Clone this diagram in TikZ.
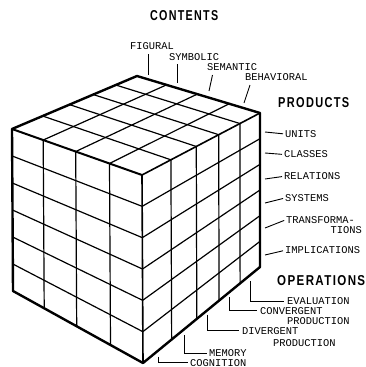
\documentclass[tikz,border=0pt]{standalone}
\usepackage{fontspec}
\usepackage{graphicx}
\newfontfamily\labfont{Liberation Mono}
\newfontfamily\titlefont[LetterSpace=12]{Liberation Sans}
\usetikzlibrary{calc}
\newcommand{\ttl}[2]{\resizebox{#1pt}{10pt}{\titlefont\bfseries #2}}
\begin{document}
\begin{tikzpicture}[x=1pt,y=-1pt,
  outline/.style={line width=2.4pt, line join=round, line cap=round},
  gridline/.style={line width=1.2pt},
  lead/.style={line width=0.9pt},
  lab/.style={inner sep=0pt, anchor=west, font=\labfont\fontsize{10.4pt}{12pt}\selectfont},
  labr/.style={inner sep=0pt, anchor=east, font=\labfont\fontsize{10.4pt}{12pt}\selectfont},
  ttlnode/.style={inner sep=0pt, anchor=north west}]
\useasboundingbox (0,0) rectangle (365,367);
% cube vertices
\coordinate (T) at (137,76);
\coordinate (L) at (12,129);
\coordinate (F) at (142,175);
\coordinate (R) at (260,113);
\coordinate (LB) at (13,291);
\coordinate (FB) at (143,363);
\coordinate (RB) at (260,267);
% right face
\foreach \c in {0.245,0.46,0.65,0.83}
  \draw[gridline] ($(F)!\c!(R)$) -- ($(FB)!\c!(RB)$);
\foreach \r in {1,...,5}
  \draw[gridline] ($(F)!\r/6!(FB)$) -- ($(R)!\r/6!(RB)$);
% left face
\foreach \a in {0.24,0.49,0.75}
  \draw[gridline] ($(L)!\a!(F)$) -- ($(LB)!\a!(FB)$);
\foreach \r in {1,...,5}
  \draw[gridline] ($(L)!\r/6!(LB)$) -- ($(F)!\r/6!(FB)$);
% top face
\foreach \c in {0.245,0.46,0.65,0.83}
  \draw[gridline] ($(L)!\c!(T)$) -- ($(F)!\c!(R)$);
\foreach \a in {0.24,0.49,0.75}
  \draw[gridline] ($(L)!\a!(F)$) -- ($(T)!\a!(R)$);
% inner edges
\draw[line width=1.6pt] (F) -- (FB);
\draw[line width=1.6pt] (F) -- (R);
\draw[line width=2pt] (L) -- (F);
% outline
\draw[outline] (L) -- (T) -- (R) -- (RB) -- (FB) -- (LB) -- cycle;

% titles
\node[ttlnode] (contents) at (150,10) {\ttl{68}{CONTENTS}};
\node[ttlnode] (products) at (278,97) {\ttl{71}{PRODUCTS}};
\node[ttlnode] (operations) at (277,275) {\ttl{88}{OPERATIONS}};

% contents labels
\node[lab] (figural) at (130,45.7) {FIGURAL};
\node[lab] (symbolic) at (169,56.7) {SYMBOLIC};
\node[lab] (semantic) at (207,66.7) {SEMANTIC};
\node[lab] (behavioral) at (245,77) {BEHAVIORAL};
\coordinate (fig1) at (148.5,54);  \coordinate (fig2) at (148.5,75);
\coordinate (sym1) at (177,64);  \coordinate (sym2) at (177,83);
\coordinate (sem1) at (212.5,75);  \coordinate (sem2) at (209,91);
\coordinate (beh1) at (250,85);  \coordinate (beh2) at (244,103);
\draw[lead] (fig1) -- (fig2);
\draw[lead] (sym1) -- (sym2);
\draw[lead] (sem1) -- (sem2);
\draw[lead] (beh1) -- (beh2);

% products labels
\node[lab] (units) at (285,134) {UNITS};
\node[lab] (classes) at (284,154.5) {CLASSES};
\node[lab] (relations) at (284,176.3) {RELATIONS};
\node[lab] (systems) at (285,198) {SYSTEMS};
\node[lab] (transforma) at (286,219.7) {TRANSFORMA-};
\node[labr] (tions) at (362,229.7) {TIONS};
\node[lab] (implications) at (285,250.3) {IMPLICATIONS};
\coordinate (u0) at (265,132);
\coordinate (c0) at (265,153);
\coordinate (r0) at (265,179);
\coordinate (s0) at (265,203);
\coordinate (t0) at (265,228);
\coordinate (i0) at (265,255);
\draw[lead, shorten >=2pt] (u0) -- (units.west);
\draw[lead, shorten >=2pt] (c0) -- (classes.west);
\draw[lead, shorten >=2pt] (r0) -- (relations.west);
\draw[lead, shorten >=2pt] (s0) -- (systems.west);
\draw[lead, shorten >=2pt] (t0) -- (transforma.west);
\draw[lead, shorten >=2pt] (i0) -- (implications.west);

% operations labels
\node[lab] (evaluation) at (287,301.3) {EVALUATION};
\node[lab] (convergent) at (260,310.8) {CONVERGENT};
\node[lab] (prod1) at (287,321.3) {PRODUCTION};
\node[lab] (divergent) at (242,330.8) {DIVERGENT};
\node[lab] (prod2) at (273,343.3) {PRODUCTION};
\node[lab] (memory) at (209,353) {MEMORY};
\node[lab] (cognition) at (190,362.6) {COGNITION};
\coordinate (ev0) at ($(FB)!0.915!(RB)+(0,6)$);
\coordinate (cv0) at ($(FB)!0.74!(RB)+(0,5)$);
\coordinate (dv0) at ($(FB)!0.555!(RB)+(0,5)$);
\coordinate (me0) at ($(FB)!0.35!(RB)+(0,6)$);
\coordinate (co0) at ($(FB)!0.13!(RB)+(0,6)$);
\draw[lead, shorten >=3pt] (ev0) |- (evaluation.west);
\draw[lead, shorten >=3pt] (cv0) |- (convergent.west);
\draw[lead, shorten >=3pt] (dv0) |- (divergent.west);
\draw[lead, shorten >=2pt] (me0) |- (memory.west);
\draw[lead, shorten >=2pt] (co0) |- (cognition.west);
\end{tikzpicture}
\end{document}
